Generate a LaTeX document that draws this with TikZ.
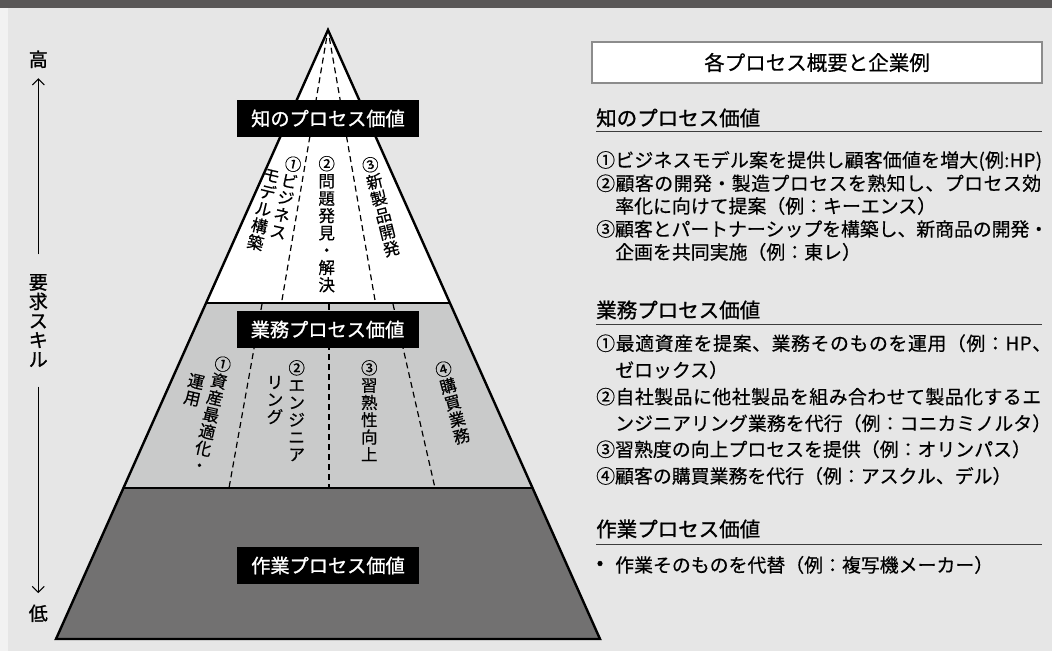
\documentclass[tikz,border=0pt]{standalone}
\usepackage{fontspec}
\setmainfont{Noto Sans CJK JP}[FakeBold=0.45]
\newfontfamily\headfont{Noto Sans CJK JP}[FakeBold=1.1]
\usetikzlibrary{arrows.meta}
\definecolor{barcol}{HTML}{595757}
\definecolor{bgcol}{HTML}{E6E6E6}
\definecolor{stripcol}{HTML}{F2F2F2}
\definecolor{midcol}{HTML}{C9CACA}
\definecolor{lowcol}{HTML}{727171}
\definecolor{framecol}{HTML}{8C8C8C}
\definecolor{rulecol}{HTML}{3C3C3C}
\makeatletter
\def\spreadtext#1{\spread@b#1\relax\relax}
\def\spread@b#1#2{#1\ifx\relax#2\else\hskip0pt plus1fil minus1pt\expandafter\spread@b\expandafter#2\fi}
\makeatother
\newcommand\justline[2]{\hbox to #1{\spreadtext{#2}}}
\begin{document}
\begin{tikzpicture}[x=1pt,y=-1pt,
  vtxt/.style={align=center,inner sep=0pt,font=\fontsize{16.5pt}{17.3pt}\selectfont},
  plabel/.style={fill=black,text=white,minimum width=182pt,minimum height=37pt,inner sep=0pt,font=\headfont\fontsize{19.2pt}{22pt}\selectfont},
  body/.style={anchor=west,inner sep=0pt,text height=16.6pt,text depth=2.3pt,font=\fontsize{18.9pt}{23pt}\selectfont},
  head/.style={anchor=west,inner sep=0pt,text height=18pt,text depth=2.5pt,font=\headfont\fontsize{20.5pt}{24pt}\selectfont},
  hrule/.style={rulecol,line width=1pt},
  divline/.style={dash pattern=on 6pt off 4pt,line width=1.2pt},
  axtxt/.style={inner xsep=0pt,text height=16.7pt,text depth=2.3pt,font=\headfont\fontsize{19pt}{19.3pt}\selectfont},
  axisarrow/.style={line width=1.1pt,-{Straight Barb[length=6pt,width=12pt]}},
  ]
\useasboundingbox (0,0) rectangle (1052,651);
% background
\fill[bgcol] (0,0) rectangle (1052,651);
\fill[stripcol] (0,0) rectangle (8,651);
\fill[barcol] (0,0) rectangle (1052,7.5);

% pyramid geometry
\coordinate (apex) at (328,30);
\coordinate (bl) at (56,639);
\coordinate (br) at (600,639);
\coordinate (kl) at (206.1,303);
\coordinate (kr) at (449.9,303);
\coordinate (ml) at (123.4,488);
\coordinate (mr) at (532.6,488);
\fill[white] (apex) -- (kl) -- (kr) -- cycle;
\fill[midcol] (kl) -- (ml) -- (mr) -- (kr) -- cycle;
\fill[lowcol] (ml) -- (bl) -- (br) -- (mr) -- cycle;

% dashed dividers
\coordinate (kd1) at (281.5,303);
\coordinate (kd2) at (375.5,303);
\draw[divline,shorten <=8pt] (apex) -- (kd1);
\draw[divline,shorten <=8pt] (apex) -- (kd2);
\coordinate (bd1t) at (262,304);
\coordinate (bd1b) at (229,488);
\coordinate (bd2t) at (329,304);
\coordinate (bd2b) at (329,488);
\coordinate (bd3t) at (393,304);
\coordinate (bd3b) at (435,488);
\draw[divline] (bd1t) -- (bd1b);
\draw[divline] (bd2t) -- (bd2b);
\draw[divline] (bd3t) -- (bd3b);

% solid lines
\draw[line width=2pt] (kl) -- (kr);
\draw[line width=2pt] (ml) -- (mr);
\draw[line width=2.4pt,line join=miter,miter limit=20] (apex) -- (bl) -- (br) -- cycle;

% tier labels
\node[plabel] (klabel) at (328,118.5) {知のプロセス価値};
\node[plabel] (blabel) at (327.5,329.5) {業務プロセス価値};
\node[plabel] (wlabel) at (328,565.5) {作業プロセス価値};

% vertical texts, knowledge tier
\node[vtxt,rotate=-12.4] (k1a) at (285.8,197.5) {①\\ビ\\ジ\\ネ\\ス};
\node[vtxt,rotate=-13.4] (k1b) at (263.3,210) {モ\\デ\\ル\\構\\築};
\node[vtxt] (k2) at (326.7,224.2) {②\\問\\題\\発\\見\\・\\解\\決};
\node[vtxt,rotate=14] (k3) at (380.8,206.7) {③\\新\\製\\品\\開\\発};
% vertical texts, business tier
\node[vtxt,rotate=-13] (b1a) at (211.3,414) {①\\資\\産\\最\\適\\化\\・};
\node[vtxt,rotate=-13] (b1b) at (194.2,390) {運\\用};
\node[vtxt] (b2a) at (296.7,410.7) {②\\エ\\ン\\ジ\\ニ\\ア};
\node[vtxt] (b2b) at (275,400) {リ\\ン\\グ};
\node[vtxt] (b3) at (369.3,410.7) {③\\習\\熟\\性\\向\\上};
\node[vtxt,rotate=15] (b4) at (452.5,402.5) {④\\購\\買\\業\\務};

% axis
\node[axtxt,inner ysep=9.2pt] (high) at (38.3,59.3) {高};
\node[axtxt,inner ysep=10.5pt] (low) at (38.3,613.3) {低};
\node[align=center,inner xsep=0pt,inner ysep=19.5pt,font=\headfont\fontsize{19pt}{19.3pt}\selectfont] (skill) at (38.3,320.5) {要\\求\\ス\\キ\\ル};
\draw[axisarrow] (skill) -- (high);
\draw[axisarrow] (skill) -- (low);

% right panel
\node[draw=framecol,line width=2pt,fill=white,minimum width=450pt,minimum height=41pt,inner sep=0pt,font=\fontsize{20.5pt}{24pt}\selectfont] (hdr) at (817,62.5) {各プロセス概要と企業例};

\node[head] (kh) at (596,118) {知のプロセス価値};
\coordinate (khr1) at (596,131);
\coordinate (khr2) at (1042,131);
\draw[hrule] (khr1) -- (khr2);
\node[body] (k1) at (596,160) {\justline{446pt}{①ビジネスモデル案を提供し顧客価値を増大(例:HP)}};
\node[body] (k2l) at (596,183.3) {\justline{445pt}{②顧客の開発・製造プロセスを熟知し、プロセス効}};
\node[body] (k3l) at (615,206) {率化に向けて提案（例：キーエンス）};
\node[body] (k4l) at (596,229) {\justline{452pt}{③顧客とパートナーシップを構築し、新商品の開発・}};
\node[body] (k5l) at (615,252) {企画を共同実施（例：東レ）};

\node[head] (bh) at (596,310) {業務プロセス価値};
\coordinate (bhr1) at (596,324.3);
\coordinate (bhr2) at (1042,324.3);
\draw[hrule] (bhr1) -- (bhr2);
\node[body] (b1l) at (596,343.3) {\justline{455pt}{①最適資産を提案、業務そのものを運用（例：HP、}};
\node[body] (b2l) at (615,370) {ゼロックス）};
\node[body] (b3l) at (596,396.7) {\justline{445pt}{②自社製品に他社製品を組み合わせて製品化するエ}};
\node[body] (b4l) at (615,423.3) {\justline{436pt}{ンジニアリング業務を代行（例：コニカミノルタ）}};
\node[body] (b5l) at (596,449.3) {③習熟度の向上プロセスを提供（例：オリンパス）};
\node[body] (b6l) at (596,476) {④顧客の購買業務を代行（例：アスクル、デル）};

\node[head] (wh) at (596,529) {作業プロセス価値};
\coordinate (whr1) at (596,544);
\coordinate (whr2) at (1042,544);
\draw[hrule] (whr1) -- (whr2);
\node[inner sep=0pt,font=\headfont\fontsize{18.9pt}{23pt}\selectfont] (wb) at (600,565) {•};
\node[body] (w1l) at (615,565) {作業そのものを代替（例：複写機メーカー）};
\end{tikzpicture}
\end{document}
